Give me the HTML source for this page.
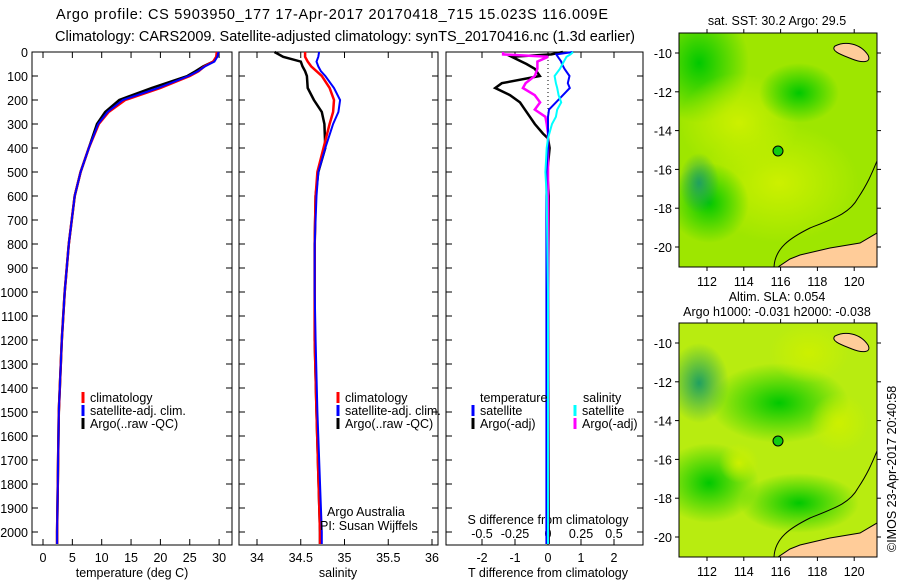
<!DOCTYPE html>
<html><head><meta charset="utf-8"><style>
body{margin:0;background:#fff}
svg{display:block;font-family:"Liberation Sans",sans-serif}
text{font-size:12.5px;fill:#000}
text.tk{font-size:12.5px}
text.tt{font-size:14.5px}
</style></head><body>
<svg id="c" width="900" height="580" viewBox="0 0 900 580">
<defs>
<clipPath id="m1"><rect x="679" y="33" width="198" height="234"/></clipPath>
<clipPath id="m2"><rect x="679" y="323" width="198" height="234"/></clipPath>
<radialGradient id="g1"><stop offset="0" stop-color="#ccf000"/><stop offset="1" stop-color="#ccf000" stop-opacity="0"/></radialGradient>
<radialGradient id="g2"><stop offset="0" stop-color="#00c800"/><stop offset="1" stop-color="#00c800" stop-opacity="0"/></radialGradient>
<radialGradient id="g3"><stop offset="0" stop-color="#20a060"/><stop offset="1" stop-color="#20a060" stop-opacity="0"/></radialGradient>
</defs>
<text class="tt" x="56" y="19" textLength="552">Argo profile: CS 5903950_177 17-Apr-2017 20170418_715 15.023S 116.009E</text>
<text class="tt" x="55" y="41" textLength="580">Climatology: CARS2009. Satellite-adjusted climatology: synTS_20170416.nc (1.3d earlier)</text>
<g id="plots"></g>
<g id="maps"></g>
</svg>
<script>
// depth levels (m)
const depths = [0,20,40,60,80,100,150,200,250,300,400,500,600,800,1000,1200,1500,2000,2050];
// temperature profiles (deg C)
const tempClim = [29.6,29.5,29.0,27.5,26.5,25.0,20.0,14.0,11.2,9.5,7.8,6.4,5.4,4.4,3.7,3.2,2.7,2.4,2.4];
const tempSat  = [29.9,29.7,29.2,27.6,26.4,24.8,19.6,13.6,11.0,9.4,7.8,6.4,5.4,4.4,3.7,3.2,2.7,2.4,2.4];
const tempArgo = [29.8,29.6,29.0,27.3,26.0,24.6,18.5,13.0,10.6,9.2,7.8,6.4,5.4,4.4,3.7,3.2,2.7,2.4,2.4];
// salinity profiles (psu)
const salClim = [34.55,34.55,34.58,34.62,34.68,34.74,34.83,34.88,34.87,34.83,34.76,34.69,34.67,34.66,34.66,34.66,34.68,34.72,34.72];
const salSat  = [34.71,34.70,34.68,34.70,34.73,34.78,34.88,34.95,34.93,34.87,34.78,34.70,34.68,34.66,34.66,34.67,34.69,34.74,34.74];
const salArgo = [34.20,34.30,34.50,34.52,34.55,34.57,34.58,34.65,34.74,34.77,34.78,34.70,34.67,34.66,34.66,34.66,34.68,34.72,34.72];
// difference profiles
const diffDepths = [0,10,20,40,50,70,100,130,150,180,210,240,270,300,340,360,400,500,600,1000,2000,2050];
const dTArgo = [0.45,0.1,-1.1,-0.8,-0.65,-0.4,-0.25,-1.4,-1.6,-1.15,-0.85,-0.7,-0.55,-0.4,-0.15,0.0,0.05,-0.02,0.02,0.0,0.02,0.02];
const dTSat  = [0.75,0.25,0.3,0.4,0.42,0.5,0.65,0.6,0.66,0.45,0.24,0.03,0.0,0.0,0.0,0.0,0.0,-0.05,-0.05,-0.05,-0.05,-0.05];
const dSArgo = [-0.34,-0.34,0.0,-0.08,-0.08,-0.08,-0.1,-0.17,-0.19,-0.1,-0.06,-0.1,-0.02,-0.01,0.0,0.0,0.0,0.0,0.0,0.0,0.0,0.0];
const dSSat  = [0.19,0.17,0.14,0.12,0.11,0.09,0.05,0.06,0.07,0.08,0.1,0.07,0.06,0.03,0.01,0.0,-0.01,-0.02,-0.01,0.0,0.0,0.0];
const depthTicks = [0,100,200,300,400,500,600,700,800,900,1000,1100,1200,1300,1400,1500,1600,1700,1800,1900,2000];
const tempTicks = [0,5,10,15,20,25,30];
const salTicks = [34,34.5,35,35.5,36];
const tdTicks = [-2,-1,0,1,2];
const sdTicks = [-0.5,-0.25,0,0.25,0.5];
const lonTicks = [112,114,116,118,120];
const latTicks = [-10,-12,-14,-16,-18,-20];

const NS='http://www.w3.org/2000/svg';
const plots=document.getElementById('plots');
function mk(tag,attrs,parent){const e=document.createElementNS(NS,tag);for(const k in attrs)e.setAttribute(k,attrs[k]);(parent||plots).appendChild(e);return e;}
const yD = d => 52 + d*0.24;
const PT=52, PB=545;
const panels=[{x0:32,x1:232},{x0:239,x1:438},{x0:446,x1:643}];
const xT = v => 43 + v*5.87;
const xS = v => 257 + (v-34)*87.5;
const xTD = v => 548 + v*33;
const xSD = v => 548 + v*132;

panels.forEach((p,i)=>{
  const r=mk('rect',{x:p.x0,y:PT,width:p.x1-p.x0,height:PB-PT,fill:'none',stroke:'#000','stroke-width':1});
  
  
  depthTicks.forEach(d=>{
    mk('line',{x1:p.x0,x2:p.x0+6,y1:yD(d),y2:yD(d),stroke:'#000'});
    mk('line',{x1:p.x1-6,x2:p.x1,y1:yD(d),y2:yD(d),stroke:'#000'});
  });
});
depthTicks.forEach(d=>{
  const t=mk('text',{x:28,y:yD(d)+5,'text-anchor':'end',class:'tk'});t.textContent=d;
  
  
});
function xaxis(ticks,fx,p,y){
  ticks.forEach(v=>{
    const x=fx(v);
    mk('line',{x1:x,x2:x,y1:PT,y2:PT+6,stroke:'#000'});
    mk('line',{x1:x,x2:x,y1:PB-6,y2:PB,stroke:'#000'});
    const t=mk('text',{x:x,y:y,'text-anchor':'middle',class:'tk'});t.textContent=v;
    
    
  });
}
xaxis(tempTicks,xT,panels[0],562);
xaxis(salTicks,xS,panels[1],562);
xaxis(tdTicks,xTD,panels[2],562);
sdTicks.forEach(v=>{const t=mk('text',{x:xSD(v),y:538,'text-anchor':'middle',class:'tk'});t.textContent=v;
  
  });
function title(x,y,s,n,anchor){const t=mk('text',{x:x,y:y,'text-anchor':anchor||'middle'});t.textContent=s;
  
  }
title(132,577,'temperature (deg C)','temperature-axis-title');
title(338,577,'salinity','salinity-axis-title');
title(548,577,'T difference from climatology','t-diff-axis-title');
title(548,524,'S difference from climatology','s-diff-axis-title');
mk('line',{x1:548,x2:548,y1:PT,y2:PB,stroke:'#000','stroke-dasharray':'1,3'});

function line(ds,vals,fx,col,w,name){
  const pts=ds.map((d,i)=>fx(vals[i]).toFixed(1)+','+Math.min(yD(d),PB).toFixed(1)).join(' ');
  const l=mk('polyline',{points:pts,fill:'none',stroke:col,'stroke-width':w});
  
  
}
line(depths,tempArgo,xT,'#000',2.5,'temp-argo-line');
line(depths,tempClim,xT,'#f00',2.5,'temp-clim-line');
line(depths,tempSat,xT,'#00f',2,'temp-sat-line');
line(depths,salArgo,xS,'#000',2.5,'sal-argo-line');
line(depths,salClim,xS,'#f00',2.5,'sal-clim-line');
line(depths,salSat,xS,'#00f',2,'sal-sat-line');
line(diffDepths,dTArgo,xTD,'#000',2.5,'tdiff-argo-line');
line(diffDepths,dSArgo,xSD,'#f0f',2.5,'sdiff-argo-line');
line(diffDepths,dTSat,xTD,'#00f',2,'tdiff-sat-line');
line(diffDepths,dSSat,xSD,'#0ff',2,'sdiff-sat-line');

function legend(x,y,items,n){
  items.forEach((it,i)=>{
    mk('line',{x1:x,x2:x,y1:y+i*13-10,y2:y+i*13+1,stroke:it[1],'stroke-width':3});
    const t=mk('text',{x:x+7,y:y+i*13});t.textContent=it[0];
    
    
  });
}
const L=[['climatology','#f00'],['satellite-adj. clim.','#00f'],['Argo(..raw -QC)','#000']];
legend(83,402,L,'temp-legend');
legend(338,402,L,'sal-legend');
title(480,402,'temperature','tdiff-legend-header','start');
title(583,402,'salinity','sdiff-legend-header','start');
legend(473,415,[['satellite','#00f'],['Argo(-adj)','#000']],'tdiff-legend');
legend(575,415,[['satellite','#0ff'],['Argo(-adj)','#f0f']],'sdiff-legend');
title(327,516,'Argo Australia','credit-argo-australia','start');
title(320,530,'PI: Susan Wijffels','credit-pi','start');

// maps
const maps=document.getElementById('maps');
const lonX = v => 707 + (v-112)*18.4;
function mapPanel(y0,clip,blobs,base,name){
  const g=mk('g',{'clip-path':'url(#'+clip+')'},maps);
  
  
  mk('rect',{x:679,y:y0,width:198,height:234,fill:base},g);
  blobs.forEach(b=>mk('ellipse',{cx:679+b[0],cy:y0+b[1],rx:b[2],ry:b[3],fill:'url(#'+b[4]+')'},g));
  mk('path',{d:`M778 ${y0+234} L790 ${y0+226} L800 ${y0+222} L830 ${y0+215} L860 ${y0+210} L877 ${y0+200} L877 ${y0+234} Z`,fill:'#fc9',stroke:'#000'},g);
  mk('path',{d:`M774 ${y0+234} C775 ${y0+215},790 ${y0+205},810 ${y0+195} C835 ${y0+185},850 ${y0+180},858 ${y0+165} C868 ${y0+150},872 ${y0+140},877 ${y0+128}`,fill:'none',stroke:'#000'},g);
  mk('path',{d:`M835 ${y0+13} C845 ${y0+8},860 ${y0+10},868 ${y0+22} C872 ${y0+30},862 ${y0+30},852 ${y0+26} C842 ${y0+22},830 ${y0+18},835 ${y0+13} Z`,fill:'#fc9',stroke:'#000'},g);
  const c=mk('circle',{cx:778,cy:y0+118,r:5,fill:'#1c1',stroke:'#000'},maps);
  
  
  mk('rect',{x:679,y:y0,width:198,height:234,fill:'none',stroke:'#000'},maps);
  lonTicks.forEach(v=>{
    const x=lonX(v);
    mk('line',{x1:x,x2:x,y1:y0,y2:y0-4,stroke:'#000'},maps);
    mk('line',{x1:x,x2:x,y1:y0+234,y2:y0+238,stroke:'#000'},maps);
    const t=mk('text',{x:x,y:y0+253,'text-anchor':'middle',class:'tk'},maps);t.textContent=v;
    
    
  });
  latTicks.forEach(v=>{
    const y=y0+20+(-10-v)*19.4;
    mk('line',{x1:679,x2:675,y1:y,y2:y,stroke:'#000'},maps);
    mk('line',{x1:877,x2:881,y1:y,y2:y,stroke:'#000'},maps);
    const t=mk('text',{x:672,y:y+5,'text-anchor':'end',class:'tk'},maps);t.textContent=v;
    
    
  });
}
mapPanel(33,'m1',[[20,30,50,60,'g2'],[60,90,60,50,'g1'],[100,150,80,60,'g1'],[30,170,40,40,'g2'],[20,150,20,30,'g3'],[120,60,40,30,'g2']],'#9ee600','sst-map');
mapPanel(323,'m2',[[20,60,30,40,'g3'],[100,80,70,40,'g2'],[30,160,50,40,'g2'],[130,30,40,30,'g1'],[160,100,30,30,'g1'],[120,180,60,30,'g2'],[60,140,20,20,'g1']],'#b8ec10','sla-map');
const mt=[[777,25,'sat. SST: 30.2 Argo: 29.5','sst-map-title'],[777,301,'Altim. SLA: 0.054','sla-map-title'],[777,316,'Argo h1000: -0.031 h2000: -0.038','sla-map-subtitle']];
mt.forEach(m=>{const t=mk('text',{x:m[0],y:m[1],'text-anchor':'middle'},maps);t.textContent=m[2];
  
  });
const cr=mk('text',{x:0,y:0,transform:'translate(896,552) rotate(-90)'},maps);
cr.textContent='©IMOS 23-Apr-2017 20:40:58';


</script>
</body></html>
